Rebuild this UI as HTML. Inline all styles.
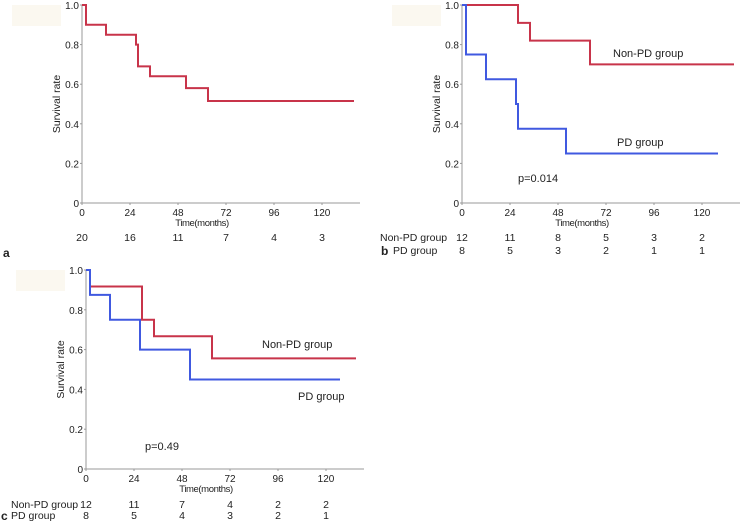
<!DOCTYPE html>
<html><head><meta charset="utf-8"><style>
body{margin:0;background:#fff;}
svg{display:block;font-family:"Liberation Sans",Arial,sans-serif;}
text{fill:#222;}
</style></head><body>
<svg id="s" width="741" height="524"></svg>
<script>
// Panel a
const aTimes=[0,2,12,27,28,34,52,63,136];
const aSurv=[1.0,0.9,0.85,0.80,0.69,0.64,0.58,0.515,0.515];
// Panel b
const bRedTimes=[0,28,34,64,136];
const bRedSurv=[1.0,0.91,0.82,0.70,0.70];
const bBlueTimes=[0,2,12,27,28,52,128];
const bBlueSurv=[1.0,0.75,0.625,0.5,0.375,0.25,0.25];
// Panel c
const cRedTimes=[0,2,28,34,63,135];
const cRedSurv=[1.0,0.917,0.75,0.667,0.556,0.556];
const cBlueTimes=[0,2,12,27,52,127];
const cBlueSurv=[1.0,0.875,0.75,0.6,0.45,0.45];
const xTicks=[0,24,48,72,96,120];
const yTicks=[0,0.2,0.4,0.6,0.8,1.0];
const aRisk=[20,16,11,7,4,3];
const bRiskNon=[12,11,8,5,3,2];
const bRiskPD=[8,5,3,2,1,1];
const cRiskNon=[12,11,7,4,2,2];
const cRiskPD=[8,5,4,3,2,1];

const NS="http://www.w3.org/2000/svg";
const svg=document.getElementById('s');
function el(tag,attrs,txt){const e=document.createElementNS(NS,tag);for(const k in attrs)e.setAttribute(k,attrs[k]);if(txt!==undefined)e.textContent=txt;svg.appendChild(e);return e;}

function panel(p,ox,y0,y1,xmax){
  const xs=t=>ox+t*2.0, ys=v=>y0+(y1-y0)*v;
  const bg=el('rect',{x:ox-70,y:y1,width:49,height:21,fill:'#fbf8f0'});
  
  
  const ax=el('path',{d:`M${ox},${y1}V${y0}H${xs(xmax)}`,stroke:'#999',fill:'none','stroke-width':1});
  
  
  yTicks.forEach(v=>{
    const t=el('text',{x:ox-3,y:ys(v)+4,'font-size':10,'text-anchor':'end'},v===0?'0':v.toFixed(1));
    
    
    el('line',{x1:ox-2,x2:ox,y1:ys(v),y2:ys(v),stroke:'#999'});
  });
  xTicks.forEach(v=>{
    const t=el('text',{x:xs(v),y:y0+13,'font-size':10,'text-anchor':'middle'},String(v));
    
    
    el('line',{x1:xs(v),x2:xs(v),y1:y0,y2:y0+2,stroke:'#999'});
  });
  const xt=el('text',{x:xs(60),y:y0+23,'font-size':9.5,'text-anchor':'middle','letter-spacing':'-0.4'},'Time(months)');
  
  
  const yt=el('text',{x:0,y:0,'font-size':10.5,'text-anchor':'middle',transform:`translate(${ox-22},${ys(0.5)}) rotate(-90)`},'Survival rate');
  
  
  return {xs,ys};
}
function curve(name,times,surv,sc,color){
  let d=`M${sc.xs(times[0])},${sc.ys(surv[0])}`;
  for(let i=1;i<times.length;i++){d+=`H${sc.xs(times[i])}V${sc.ys(surv[i])}`;}
  const p=el('path',{d,stroke:color,fill:'none','stroke-width':2});
  
  
}
function riskRow(name,vals,sc,y){
  vals.forEach((v,i)=>{const t=el('text',{x:sc.xs(xTicks[i]),y,'font-size':10.5,'text-anchor':'middle'},String(v));
    
    });
}
function label(name,x,y,s,size,w){const t=el('text',{x,y,'font-size':size||11,'font-weight':w||'normal'},s);
  
  }
const RED='#c8344a',BLUE='#4059e0';

const A=panel('a',82,203,5,139);
curve('a-survival-curve',aTimes,aSurv,A,RED);
riskRow('a-risk-number',aRisk,A,241);
label('a-panel-letter',3,257,'a',12,'bold');

const B=panel('b',462,203,5,139);
curve('b-non-pd-curve',bRedTimes,bRedSurv,B,RED);
curve('b-pd-curve',bBlueTimes,bBlueSurv,B,BLUE);
label('b-non-pd-label',613,57,'Non-PD group',11);
label('b-pd-label',617,146,'PD group',11);
label('b-p-value',518,182,'p=0.014',11);
riskRow('b-risk-non-pd',bRiskNon,B,241);
riskRow('b-risk-pd',bRiskPD,B,254);
label('b-row-non-pd',380,241,'Non-PD group',10.5);
label('b-row-pd',393,254,'PD group',10.5);
label('b-panel-letter',381,255,'b',12,'bold');

const C=panel('c',86,469,270,139);
curve('c-non-pd-curve',cRedTimes,cRedSurv,C,RED);
curve('c-pd-curve',cBlueTimes,cBlueSurv,C,BLUE);
label('c-non-pd-label',262,348,'Non-PD group',11);
label('c-pd-label',298,400,'PD group',11);
label('c-p-value',145,450,'p=0.49',11);
riskRow('c-risk-non-pd',cRiskNon,C,508);
riskRow('c-risk-pd',cRiskPD,C,519);
label('c-row-non-pd',11,508,'Non-PD group',10.5);
label('c-row-pd',11,519,'PD group',10.5);
label('c-panel-letter',1,520,'c',12,'bold');
</script>
</body></html>
